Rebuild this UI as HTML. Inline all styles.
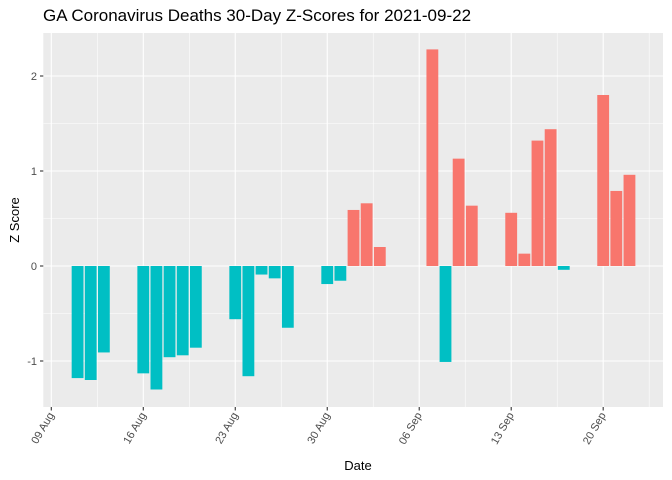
<!DOCTYPE html>
<html><head><meta charset="utf-8"><style>
body{margin:0;background:#fff;}
svg{display:block;font-family:"Liberation Sans",sans-serif;}
</style></head><body>
<svg id="chart" width="672" height="480">
<rect width="672" height="480" fill="#fff"/>
<text x="43" y="21" font-size="17" fill="#000">GA Coronavirus Deaths 30-Day Z-Scores for 2021-09-22</text>
<rect x="43.3" y="33" width="619.7" height="374" fill="#ebebeb"/>
<g id="grid"></g><g id="bars"></g><g id="axes"></g>
<text x="358" y="470" font-size="13" text-anchor="middle" fill="#000">Date</text>
<text transform="translate(19,220) rotate(-90)" font-size="13" text-anchor="middle" fill="#000">Z Score</text>
</svg>
<script>
const dates=["2021-08-11","2021-08-12","2021-08-13","2021-08-16","2021-08-17","2021-08-18","2021-08-19","2021-08-20","2021-08-23","2021-08-24","2021-08-25","2021-08-26","2021-08-27","2021-08-30","2021-08-31","2021-09-01","2021-09-02","2021-09-03","2021-09-07","2021-09-08","2021-09-09","2021-09-10","2021-09-13","2021-09-14","2021-09-15","2021-09-16","2021-09-17","2021-09-20","2021-09-21","2021-09-22"];
const zscores=[-1.18,-1.2,-0.91,-1.13,-1.3,-0.96,-0.94,-0.86,-0.56,-1.16,-0.09,-0.13,-0.65,-0.19,-0.155,0.59,0.66,0.2,2.28,-1.01,1.13,0.635,0.56,0.13,1.32,1.44,-0.04,1.8,0.79,0.96];
const xTickLabels=["09 Aug","16 Aug","23 Aug","30 Aug","06 Sep","13 Sep","20 Sep"];
const yTicks=[-1,0,1,2];
const ns="http://www.w3.org/2000/svg";
const base=Date.UTC(2021,7,9);
function dayOf(s){const p=s.split("-");return (Date.UTC(+p[0],+p[1]-1,+p[2])-base)/86400000;}
function xs(d){return 51.3+d*13.14;}
function ys(v){return 266-v*95;}
function mk(t,a,parent){const e=document.createElementNS(ns,t);for(const k in a)e.setAttribute(k,a[k]);parent.appendChild(e);return e;}
const grid=document.getElementById("grid"),bars=document.getElementById("bars"),axes=document.getElementById("axes");
for(let v=-1.5;v<=2.01;v+=0.5){const y=ys(v);const major=Math.abs(v-Math.round(v))<1e-6;
 const l=mk("line",{x1:43.3,x2:663,y1:y,y2:y,stroke:"#fff","stroke-width":major?1.1:0.55},grid);
 
 }
for(let d=-3.5;d<=46;d+=3.5){const x=xs(d);if(x<43.3||x>663)continue;const major=Math.abs(d/7-Math.round(d/7))<1e-6;
 const l=mk("line",{x1:x,x2:x,y1:33,y2:407,stroke:"#fff","stroke-width":major?1.1:0.55},grid);
 
 }
dates.forEach((s,i)=>{const d=dayOf(s),v=zscores[i];const x=xs(d)-0.45*13.14;const y0=ys(0),y1=ys(v);
 const r=mk("rect",{x:x,y:Math.min(y0,y1),width:0.9*13.14,height:Math.abs(y1-y0),fill:v>=0?"#f8766d":"#00bfc4"},bars);
 
 });
yTicks.forEach(v=>{const y=ys(v);
 mk("line",{x1:40,x2:43.3,y1:y,y2:y,stroke:"#333","stroke-width":1.1},axes);
 const t=mk("text",{x:37,y:y+4,"font-size":11,"text-anchor":"end",fill:"#4d4d4d"},axes);t.textContent=v;
 
 });
xTickLabels.forEach((lab,i)=>{const x=xs(i*7);
 mk("line",{x1:x,x2:x,y1:407,y2:410.5,stroke:"#333","stroke-width":1.1},axes);
 const t=mk("text",{transform:`translate(${x+3},${415}) rotate(-60)`,"font-size":11,"text-anchor":"end",fill:"#4d4d4d"},axes);t.textContent=lab;
 
 });
</script>
</body></html>
